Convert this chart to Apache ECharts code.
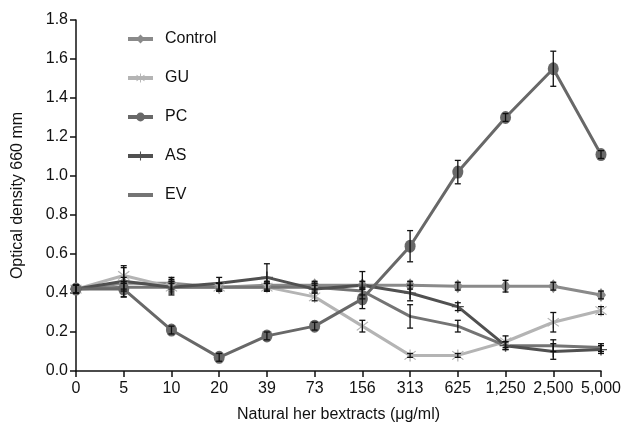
<!DOCTYPE html>
<html>
<head>
<meta charset="utf-8">
<script src="https://cdn.jsdelivr.net/npm/echarts@6/dist/echarts.min.js"></script>
<style>
  html, body { margin: 0; padding: 0; background: #fff; }
  #chart { width: 627px; height: 438px; }
</style>
</head>
<body>
<div id="chart"></div>
<script>
// extract concentrations (ug/ml)
const categories = ['0', '5', '10', '20', '39', '73', '156', '313', '625', '1,250', '2,500', '5,000'];

const control = [0.42, 0.45, 0.45, 0.43, 0.44, 0.44, 0.44, 0.44, 0.435, 0.435, 0.435, 0.39];
const gu = [0.42, 0.49, 0.43, 0.43, 0.43, 0.38, 0.23, 0.08, 0.08, 0.15, 0.25, 0.31];
const pc = [0.42, 0.42, 0.21, 0.07, 0.18, 0.23, 0.37, 0.64, 1.02, 1.30, 1.55, 1.11];
const as = [0.42, 0.46, 0.43, 0.45, 0.48, 0.42, 0.44, 0.40, 0.33, 0.13, 0.10, 0.11];
const ev = [0.42, 0.43, 0.43, 0.43, 0.43, 0.43, 0.41, 0.28, 0.23, 0.13, 0.13, 0.12];

// error bar half-widths
const controlErr = [0.02, 0.03, 0.03, 0.02, 0.02, 0.02, 0.02, 0.02, 0.02, 0.03, 0.02, 0.02];
const guErr = [0.02, 0.04, 0.04, 0.02, 0.02, 0.02, 0.03, 0.01, 0.01, 0.03, 0.05, 0.02];
const pcErr = [0.02, 0.04, 0.02, 0.02, 0.02, 0.02, 0.05, 0.08, 0.06, 0.02, 0.09, 0.02];
const asErr = [0.02, 0.08, 0.03, 0.03, 0.07, 0.02, 0.07, 0.04, 0.02, 0.02, 0.04, 0.02];
const evErr = [0.02, 0.02, 0.02, 0.02, 0.02, 0.02, 0.02, 0.06, 0.03, 0.02, 0.03, 0.02];

const asteriskPath = 'path://M-0.6,-6L0.6,-6L0.6,6L-0.6,6Z M-5.6,-3.8L-4.8,-4.6L5.6,3.8L4.8,4.6Z M-5.6,3.8L-4.8,4.6L5.6,-3.8L4.8,-4.6Z';
const plusPath = 'path://M-0.6,-6L0.6,-6L0.6,6L-0.6,6Z M-5,-0.6L5,-0.6L5,0.6L-5,0.6Z';

const errData = (vals, errs) => vals.map((v, i) => [i, v - errs[i], v + errs[i]]);

const errorSeries = (vals, errs) => ({
	type: 'custom',
	silent: true,
	z: 5,
	renderItem: (params, api) => {
		const top = api.coord([api.value(0), api.value(2)]);
		const bot = api.coord([api.value(0), api.value(1)]);
		const w = 3;
		const st = { stroke: '#111', lineWidth: 1.3 };
		return {
			type: 'group',
			children: [
				{ type: 'line', shape: { x1: top[0], y1: top[1], x2: bot[0], y2: bot[1] }, style: st },
				{ type: 'line', shape: { x1: top[0] - w, y1: top[1], x2: top[0] + w, y2: top[1] }, style: st },
				{ type: 'line', shape: { x1: bot[0] - w, y1: bot[1], x2: bot[0] + w, y2: bot[1] }, style: st },
			],
		};
	},
	data: errData(vals, errs),
});

const lineSeries = (name, data, color, symbol, size) => ({
	name: name,
	type: 'line',
	data: data,
	symbol: symbol,
	symbolSize: size,
	showSymbol: symbol !== 'none',
	z: 3,
	lineStyle: { color: color, width: 3 },
	itemStyle: { color: color },
});

let myChart = echarts.init(document.getElementById('chart'));

let option = {
	animation: false,
	textStyle: { fontFamily: 'Liberation Sans, Arial, sans-serif' },
	grid: { left: 76, right: 26, top: 20, bottom: 67 },
	legend: {
		orient: 'vertical',
		left: 121,
		top: 26,
		itemWidth: 25,
		itemHeight: 11,
		itemGap: 23,
		lineStyle: { width: 4 },
		textStyle: { fontSize: 16, color: '#111', padding: [0, 0, 0, 7] },
		data: [
			'Control',
			'GU',
			'PC',
			'AS',
			{ name: 'EV', itemStyle: { opacity: 0 } },
		],
	},
	xAxis: {
		type: 'category',
		boundaryGap: false,
		data: categories,
		name: 'Natural her bextracts (\u03bcg/ml)',
		nameLocation: 'middle',
		nameGap: 36,
		nameTextStyle: { fontSize: 16, color: '#111' },
		axisLine: { lineStyle: { color: '#111', width: 1.5 } },
		axisTick: { show: true, length: 6, alignWithLabel: true, lineStyle: { color: '#111', width: 1.5 } },
		axisLabel: { fontSize: 16, color: '#111', margin: 10, interval: 0 },
	},
	yAxis: {
		type: 'value',
		min: 0,
		max: 1.8,
		interval: 0.2,
		name: 'Optical density 660 mm',
		nameLocation: 'middle',
		nameGap: 50,
		nameTextStyle: { fontSize: 16, color: '#111' },
		axisLine: { show: true, lineStyle: { color: '#111', width: 1.5 } },
		axisTick: { show: true, length: 6, lineStyle: { color: '#111', width: 1.5 } },
		axisLabel: { fontSize: 16, color: '#111', margin: 8, formatter: (v) => v.toFixed(1) },
		splitLine: { show: false },
	},
	series: [
		lineSeries('Control', control, '#8a8a8a', 'diamond', [10, 14]),
		lineSeries('GU', gu, '#b4b4b4', asteriskPath, 12),
		lineSeries('EV', ev, '#747474', 'none', 0),
		lineSeries('AS', as, '#505050', plusPath, 12),
		lineSeries('PC', pc, '#686868', 'circle', [11, 13]),
		errorSeries(control, controlErr),
		errorSeries(gu, guErr),
		errorSeries(pc, pcErr),
		errorSeries(as, asErr),
		errorSeries(ev, evErr),
	],
};

myChart.setOption(option);
</script>
</body>
</html>
